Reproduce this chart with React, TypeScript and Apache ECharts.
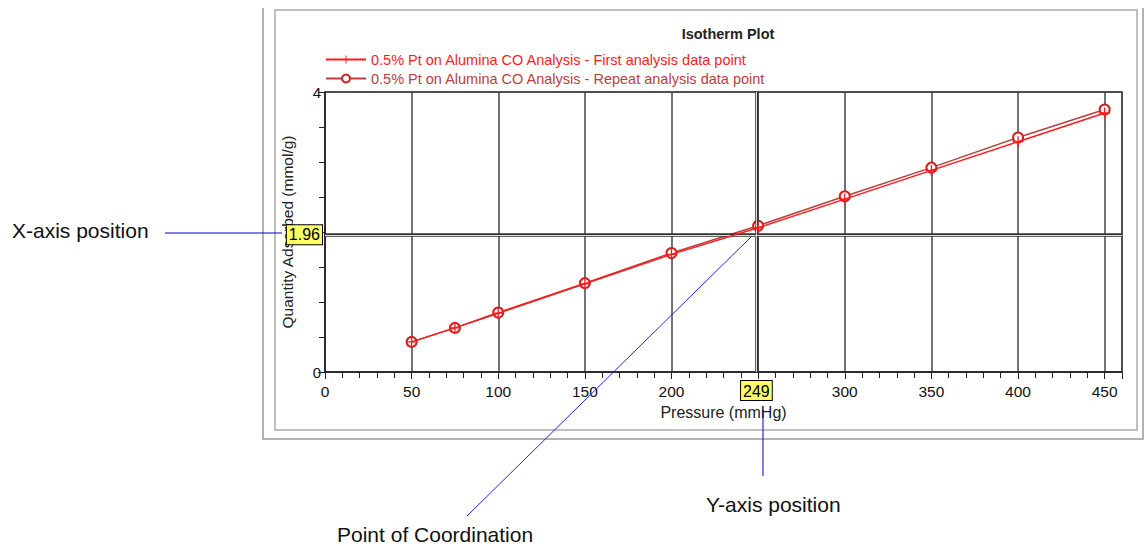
import React, { useEffect, useRef } from "react";
import * as echarts from "echarts";

const pressures = [50, 75, 100, 150, 200, 250, 300, 350, 400, 450];
const firstAnalysis = [0.43, 0.63, 0.84, 1.26, 1.68, 2.06, 2.47, 2.88, 3.29, 3.70];
const repeatAnalysis = [0.43, 0.63, 0.85, 1.27, 1.70, 2.09, 2.51, 2.92, 3.35, 3.75];
const seriesNames = [
  "0.5% Pt on Alumina CO Analysis - First analysis data point",
  "0.5% Pt on Alumina CO Analysis - Repeat analysis data point",
];
const crossX = 249;
const crossY = 1.96;
const xTicks = [0, 50, 100, 150, 200, 250, 300, 350, 400, 450];
const yTicks = [0, 4];

const FONT = "Arial, 'Liberation Sans', sans-serif";
const RED = "#ff1a1a";
const DARKRED = "#b84040";

export default function App() {
  const ref = useRef<HTMLDivElement>(null);
  useEffect(() => {
    if (!ref.current) return;
    const chart = echarts.init(ref.current, undefined, { renderer: "svg" });
    const cross = "path://M0,4.4h10v1.2h-10z M4.4,0h1.2v10h-1.2z";
    const labelBox = {
      show: true,
      formatter: "{c}",
      backgroundColor: "#ffff66",
      borderColor: "#000",
      borderWidth: 1,
      padding: [2, 2, 1, 2],
      color: "#000",
      fontSize: 16,
      fontFamily: FONT,
    };
    chart.setOption({
      animation: false,
      backgroundColor: "#fff",
      title: {
        text: "Isotherm Plot",
        left: 723,
        top: 21,
        textAlign: "center",
        textStyle: { fontSize: 14.5, fontWeight: "bold", fontFamily: FONT, color: "#222" },
      },
      legend: {
        orient: "vertical",
        left: 320,
        top: 47,
        itemGap: 4,
        itemWidth: 40,
        itemHeight: 10,
        data: [
          { name: seriesNames[0], textStyle: { color: RED } },
          { name: seriesNames[1], textStyle: { color: DARKRED } },
        ],
        textStyle: { fontSize: 14.5, fontFamily: FONT },
      },
      grid: {
        left: 325,
        right: 22,
        top: 92,
        bottom: 174,
        show: true,
        borderColor: "#444",
        borderWidth: 1.5,
      },
      xAxis: {
        type: "value",
        min: 0,
        max: 460,
        interval: 50,
        name: "Pressure (mmHg)",
        nameLocation: "middle",
        nameGap: 32,
        nameTextStyle: { fontSize: 16, fontFamily: FONT, color: "#222" },
        axisLine: { show: true, onZero: false, lineStyle: { color: "#222", width: 1.5 } },
        axisTick: { show: true, length: 7, lineStyle: { color: "#222" } },
        minorTick: { show: true, splitNumber: 5, length: 6, lineStyle: { color: "#222" } },
        axisLabel: {
          fontSize: 15.5,
          fontFamily: FONT,
          color: "#111",
          margin: 11,
          showMaxLabel: false,
          formatter: (v: number) => (xTicks.includes(v) ? String(v) : ""),
        },
        splitLine: { show: true, lineStyle: { color: "#444", width: 1.5 } },
      },
      yAxis: {
        type: "value",
        min: yTicks[0],
        max: yTicks[1],
        interval: 4,
        name: "Quantity Adsorbed (mmol/g)",
        nameLocation: "middle",
        nameGap: 30,
        nameTextStyle: { fontSize: 15.5, fontFamily: FONT, color: "#222" },
        axisLine: { show: true, lineStyle: { color: "#222", width: 1.5 } },
        axisTick: { show: true, length: 7, lineStyle: { color: "#222" } },
        minorTick: { show: true, splitNumber: 8, length: 6, lineStyle: { color: "#222" } },
        axisLabel: { fontSize: 15, fontFamily: FONT, color: "#111", margin: 4 },
        splitLine: { show: true, lineStyle: { color: "#444", width: 1.5 } },
      },
      series: [
        {
          name: seriesNames[0],
          type: "line",
          data: pressures.map((p, i) => [p, firstAnalysis[i]]),
          symbol: cross,
          symbolSize: 11,
          color: RED,
          itemStyle: { color: RED },
          lineStyle: { color: RED, width: 1.5 },
          z: 5,
          markLine: {
            silent: true,
            symbol: "none",
            lineStyle: { color: "#333", width: 3.5, type: "solid" },
            data: [
              { yAxis: crossY, label: { ...labelBox, position: "start", distance: 3 } },
              { xAxis: crossX, label: { ...labelBox, position: "start", distance: 9 } },
            ],
          },
        },
        {
          name: seriesNames[1],
          type: "line",
          data: pressures.map((p, i) => [p, repeatAnalysis[i]]),
          symbol: "emptyCircle",
          symbolSize: 10,
          color: DARKRED,
          itemStyle: { color: "#d02020", borderWidth: 1 },
          lineStyle: { color: DARKRED, width: 1.5 },
          z: 4,
          markLine: {
            silent: true,
            symbol: "none",
            lineStyle: { color: "#ddd", width: 1, type: "solid" },
            label: { show: false },
            data: [{ yAxis: crossY }, { xAxis: crossX }],
          },
        },
      ],
      graphic: [
        {
          type: "polyline",
          shape: { points: [[263, 8], [263, 439], [1143, 439], [1143, 8]] },
          style: { stroke: "#999", lineWidth: 1.5, fill: "none" },
          silent: true,
        },
        {
          type: "rect",
          shape: { x: 275, y: 10, width: 862, height: 420 },
          style: { stroke: "#aaa", lineWidth: 1.5, fill: "none" },
          silent: true,
        },
        {
          type: "text",
          left: 12,
          top: 220,
          style: { text: "X-axis position", fontSize: 21, fontFamily: FONT, fill: "#111" },
        },
        {
          type: "text",
          left: 706,
          top: 494,
          style: { text: "Y-axis position", fontSize: 21, fontFamily: FONT, fill: "#111" },
        },
        {
          type: "text",
          left: 337,
          top: 524,
          style: { text: "Point of Coordination", fontSize: 21, fontFamily: FONT, fill: "#111" },
        },
        {
          type: "line",
          shape: { x1: 165, y1: 233, x2: 282, y2: 233 },
          style: { stroke: "#0000cc", lineWidth: 1 },
          z: 100,
        },
        {
          type: "line",
          shape: { x1: 763, y1: 410, x2: 763, y2: 476 },
          style: { stroke: "#0000cc", lineWidth: 1 },
          z: 100,
        },
        {
          type: "line",
          shape: { x1: 467, y1: 516, x2: 752, y2: 236 },
          style: { stroke: "#2222ff", lineWidth: 1 },
          z: 100,
        },
      ],
    });
    return () => chart.dispose();
  }, []);
  return (
    <div
      ref={ref}
      style={{ position: "fixed", left: 0, top: 0, width: 1144, height: 546, background: "#fff" }}
    />
  );
}
